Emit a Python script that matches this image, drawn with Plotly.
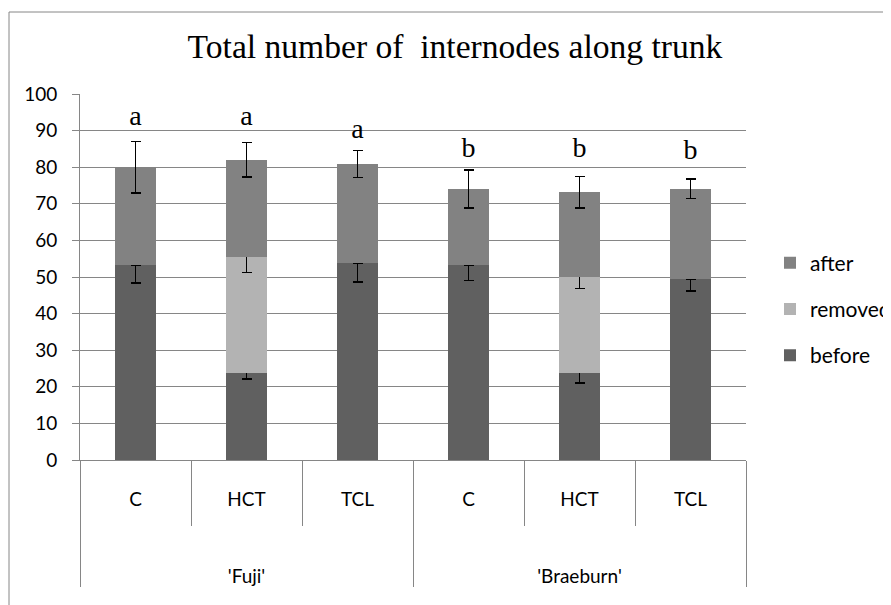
import plotly.graph_objects as go

varieties = ["'Fuji'", "'Braeburn'"]
treatments = ["C", "HCT", "TCL"]

before = [53.2, 23.8, 53.7, 53.2, 23.8, 49.5]
removed = [0, 31.6, 0, 0, 26.2, 0]
after = [26.8, 26.6, 27.2, 20.9, 23.1, 24.6]
err_before = [4.9, 1.7, 5.0, 4.2, 2.7, 3.3]
err_removed = [0, 4.2, 0, 0, 3.2, 0]
err_after = [7.0, 4.7, 3.7, 5.2, 4.3, 2.7]

letters = ["a", "a", "a", "b", "b", "b"]
letter_y = [93.4, 93.4, 89.8, 84.7, 84.7, 84.2]

# inner labels padded with blank lines so the outer level sits lower
PAD = "<br>\u00a0<br>\u00a0<br>\u00a0"
outer = [v for v in varieties for _ in treatments]
inner = [t + PAD for _ in varieties for t in treatments]
xcat = [outer, inner]

GRID = "#868686"
TICKFONT = dict(family="Lato", size=19, color="black")

# the page body adds an 8px offset; figure is sized to fit the 891x605 window
W, H = 883, 597

fig = go.Figure()
series = [
    ("before", before, err_before, "#606060", 3),
    ("removed", removed, err_removed, "#B3B3B3", 2),
    ("after", after, err_after, "#828282", 1),
]
for name, vals, errs, col, rank in series:
    fig.add_trace(go.Bar(
        name=name, x=xcat, y=vals, marker=dict(color=col, line=dict(width=0)),
        legendgroup=name, legendrank=rank,
        error_y=dict(type="data", array=errs, visible=True, color="black",
                     thickness=1.5, width=5),
    ))

fig.add_trace(go.Scatter(
    x=xcat, y=letter_y, text=letters, mode="text", showlegend=False,
    textfont=dict(family="Liberation Serif", size=28, color="black"),
    textposition="middle center", hoverinfo="skip",
))

fig.update_layout(
    width=W, height=H,
    margin=dict(l=72, r=145, t=86, b=145),
    paper_bgcolor="white", plot_bgcolor="white",
    barmode="stack", bargap=0.63,
    title=dict(text="Total number of  internodes along trunk",
               x=447/W, xanchor="center", xref="container",
               y=1-38/H, yanchor="middle", yref="container",
               font=dict(family="Liberation Serif", size=33.6, color="black")),
    legend=dict(x=762/W, xanchor="left", xref="container",
                y=0.4126, yanchor="middle", yref="paper",
                traceorder="grouped", tracegroupgap=16,
                itemwidth=30,
                font=dict(family="Lato", size=21, color="black"),
                bgcolor="rgba(0,0,0,0)"),
    showlegend=True,
    xaxis=dict(type="multicategory", showline=True, linecolor=GRID, linewidth=1,
               ticks="outside", tickson="boundaries", ticklen=65, tickcolor=GRID,
               tickwidth=1, showdividers=True, dividercolor=GRID, dividerwidth=1,
               tickfont=TICKFONT, automargin=False,
               showgrid=False, range=[-0.5, 5.5], ticklabelstandoff=22),
    yaxis=dict(range=[0, 100], dtick=10, showgrid=True, gridcolor=GRID, gridwidth=1,
               showline=True, linecolor=GRID, linewidth=1, ticks="outside",
               ticklen=7, tickcolor=GRID, tickfont=TICKFONT, zeroline=False,
               ticklabelstandoff=11, automargin=False),
    shapes=[dict(type="rect", xref="paper", yref="paper",
                 x0=(9-80)/666, x1=(900-80)/666, y0=(460-620)/366, y1=1+(94-12)/366,
                 line=dict(color=GRID, width=1), fillcolor="rgba(0,0,0,0)", layer="below")],
)

fig.write_html("out.html")
